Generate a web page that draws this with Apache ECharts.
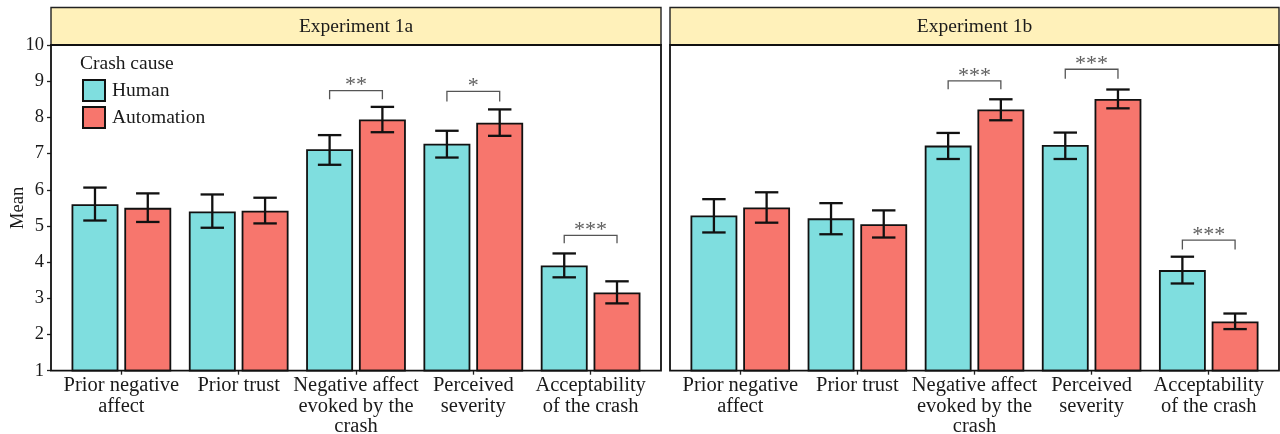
<!DOCTYPE html>
<html><head><meta charset="utf-8">
<script src="https://cdn.jsdelivr.net/npm/echarts@6/dist/echarts.min.js"></script>
<style>html,body{margin:0;padding:0;background:#fff}#c{width:1280px;height:434px}</style>
</head><body><div id="c"></div>
<script>
var categories = ['Prior negative\naffect', 'Prior trust', 'Negative affect\nevoked by the\ncrash', 'Perceived\nseverity', 'Acceptability\nof the crash'];
var yTicks = [1, 10, 1]; // min, max, interval
var panelTitles = ['Experiment 1a', 'Experiment 1b'];
var seriesNames = ['Human', 'Automation'];

var exp1aHuman   = [5.60, 5.40, 7.12, 7.27, 3.91];
var exp1aHumanLo = [5.15, 4.95, 6.69, 6.89, 3.58];
var exp1aHumanHi = [6.06, 5.87, 7.51, 7.63, 4.24];
var exp1aAuto    = [5.50, 5.42, 7.94, 7.85, 3.16];
var exp1aAutoLo  = [5.11, 5.07, 7.59, 7.49, 2.86];
var exp1aAutoHi  = [5.90, 5.78, 8.29, 8.22, 3.47];

var exp1bHuman   = [5.29, 5.21, 7.22, 7.24, 3.78];
var exp1bHumanLo = [4.82, 4.77, 6.85, 6.85, 3.41];
var exp1bHumanHi = [5.74, 5.63, 7.57, 7.58, 4.15];
var exp1bAuto    = [5.51, 5.05, 8.22, 8.51, 2.36];
var exp1bAutoLo  = [5.09, 4.68, 7.92, 8.25, 2.15];
var exp1bAutoHi  = [5.93, 5.43, 8.50, 8.77, 2.58];

var sig1aCat = [2, 3, 4];
var sig1aLabel = ['**', '*', '***'];
var sig1aY = [8.74, 8.72, 4.74];
var sig1aTip = [8.50, 8.44, 4.52];

var sig1bCat = [2, 3, 4];
var sig1bLabel = ['***', '***', '***'];
var sig1bY = [9.01, 9.33, 4.61];
var sig1bTip = [8.78, 9.07, 4.35];

var FONT = 'Liberation Serif, Times New Roman, serif';
var CYAN = '#7FDEDF';
var RED = '#F7766D';

// layout
var panels = [{left: 51, right: 661}, {left: 670, right: 1279}];
var pTop = 45, pBottom = 370.7, stripTop = 7.5;

function errRender(offsetFrac) {
  return function (params, api) {
    var x = api.value(0), lo = api.value(1), hi = api.value(2);
    var band = api.size([1, 0])[0];
    var a = api.coord([x, lo]), b = api.coord([x, hi]);
    var cx = a[0] + offsetFrac * band, cap = 0.1 * band;
    var st = {stroke: '#111', lineWidth: 2.3};
    return {type: 'group', children: [
      {type: 'line', shape: {x1: cx, y1: a[1], x2: cx, y2: b[1]}, style: st},
      {type: 'line', shape: {x1: cx - cap, y1: a[1], x2: cx + cap, y2: a[1]}, style: st},
      {type: 'line', shape: {x1: cx - cap, y1: b[1], x2: cx + cap, y2: b[1]}, style: st}
    ]};
  };
}
function sigRender(labels) {
  return function (params, api) {
    var x = api.value(0), y = api.value(1), tip = api.value(2);
    var band = api.size([1, 0])[0];
    var p = api.coord([x, y]), t = api.coord([x, tip]);
    var x1 = p[0] - 0.225 * band, x2 = p[0] + 0.225 * band;
    var st = {stroke: '#555', lineWidth: 1.3, fill: null};
    return {type: 'group', children: [
      {type: 'polyline', shape: {points: [[x1, t[1]], [x1, p[1]], [x2, p[1]], [x2, t[1]]]}, style: st},
      {type: 'text', x: p[0], y: p[1] + 6, style: {text: labels[params.dataIndex], fill: '#606060', font: '22px ' + FONT, textAlign: 'center', textVerticalAlign: 'bottom'}}
    ]};
  };
}
function zip3(a, b, c) { return a.map(function (v, i) { return [i, b[i], c[i]]; }); }
function sigData(cat, y, tip) { return cat.map(function (c, i) { return [c, y[i], tip[i]]; }); }

var grids = [], xAxes = [], yAxes = [], series = [], graphics = [];
var datasets = [
  {h: exp1aHuman, hl: exp1aHumanLo, hh: exp1aHumanHi, a: exp1aAuto, al: exp1aAutoLo, ah: exp1aAutoHi, sc: sig1aCat, sy: sig1aY, st: sig1aTip, sl: sig1aLabel},
  {h: exp1bHuman, hl: exp1bHumanLo, hh: exp1bHumanHi, a: exp1bAuto, al: exp1bAutoLo, ah: exp1bAutoHi, sc: sig1bCat, sy: sig1bY, st: sig1bTip, sl: sig1bLabel}
];
panels.forEach(function (p, k) {
  var w = p.right - p.left, band = w / 5.2, inset = 0.1 * band;
  grids.push({left: p.left + inset, top: pTop, width: w - 2 * inset, height: pBottom - pTop, containLabel: false, outerBoundsMode: 'none'});
  xAxes.push({type: 'category', gridIndex: k, data: categories,
    axisLine: {show: false},
    axisTick: {show: true, alignWithLabel: true, length: 4, lineStyle: {color: '#222', width: 1.3}},
    axisLabel: {interval: 0, margin: 5, fontFamily: FONT, fontSize: 20.5, lineHeight: 20.5, color: '#1a1a1a'}});
  yAxes.push({type: 'value', gridIndex: k, min: yTicks[0], max: yTicks[1], interval: yTicks[2], offset: inset,
    splitLine: {show: false}, axisLine: {show: false},
    axisTick: {show: k === 0, length: 4, lineStyle: {color: '#222', width: 1.3}},
    axisLabel: {show: k === 0, margin: 7, fontFamily: FONT, fontSize: 18.5, color: '#1a1a1a'}});
  var d = datasets[k];
  series.push({type: 'bar', name: seriesNames[0], xAxisIndex: k, yAxisIndex: k, data: d.h, barWidth: '40%', barGap: '12.5%',
    itemStyle: {color: CYAN, borderColor: '#111', borderWidth: 1.8}, z: 2});
  series.push({type: 'bar', name: seriesNames[1], xAxisIndex: k, yAxisIndex: k, data: d.a, barWidth: '40%', barGap: '12.5%',
    itemStyle: {color: RED, borderColor: '#111', borderWidth: 1.8}, z: 2});
  series.push({type: 'custom', xAxisIndex: k, yAxisIndex: k, renderItem: errRender(-0.225), data: zip3(d.h, d.hl, d.hh), z: 5, silent: true});
  series.push({type: 'custom', xAxisIndex: k, yAxisIndex: k, renderItem: errRender(0.225), data: zip3(d.a, d.al, d.ah), z: 5, silent: true});
  series.push({type: 'custom', xAxisIndex: k, yAxisIndex: k, renderItem: sigRender(d.sl), data: sigData(d.sc, d.sy, d.st), z: 5, silent: true});
  // strip
  graphics.push({type: 'rect', shape: {x: p.left, y: stripTop, width: w, height: pTop - stripTop},
    style: {fill: '#FFF1BA', stroke: '#222', lineWidth: 1.4}, z: 10});
  graphics.push({type: 'text', x: p.left + w / 2, y: (stripTop + pTop) / 2 + 0.5,
    style: {text: panelTitles[k], font: '19.5px ' + FONT, fill: '#1a1a1a', textAlign: 'center', textVerticalAlign: 'middle'}, z: 11});
  // frame
  graphics.push({type: 'rect', shape: {x: p.left, y: pTop, width: w, height: pBottom - pTop},
    style: {fill: null, stroke: '#111', lineWidth: 1.8}, z: 20});
});
graphics.push({type: 'text', x: 80, y: 64, style: {text: 'Crash cause', font: '19.5px ' + FONT, fill: '#1a1a1a', textVerticalAlign: 'middle'}, z: 11});
graphics.push({type: 'text', x: 18, y: (pTop + pBottom) / 2, rotation: Math.PI / 2,
  style: {text: 'Mean', font: '18.5px ' + FONT, fill: '#1a1a1a', textAlign: 'center', textVerticalAlign: 'middle'}, z: 11});

var chart = echarts.init(document.getElementById('c'), null, {renderer: 'canvas'});
chart.setOption({
  animation: false,
  backgroundColor: '#fff',
  grid: grids, xAxis: xAxes, yAxis: yAxes, series: series,
  legend: {data: seriesNames, orient: 'vertical', left: 82, top: 79, padding: 0, itemWidth: 22, itemHeight: 21, itemGap: 4,
    icon: 'rect', selectedMode: false,
    textStyle: {fontFamily: FONT, fontSize: 19.5, color: '#1a1a1a', padding: [0, 0, 0, 2]}},
  graphic: graphics
});
</script></body></html>
